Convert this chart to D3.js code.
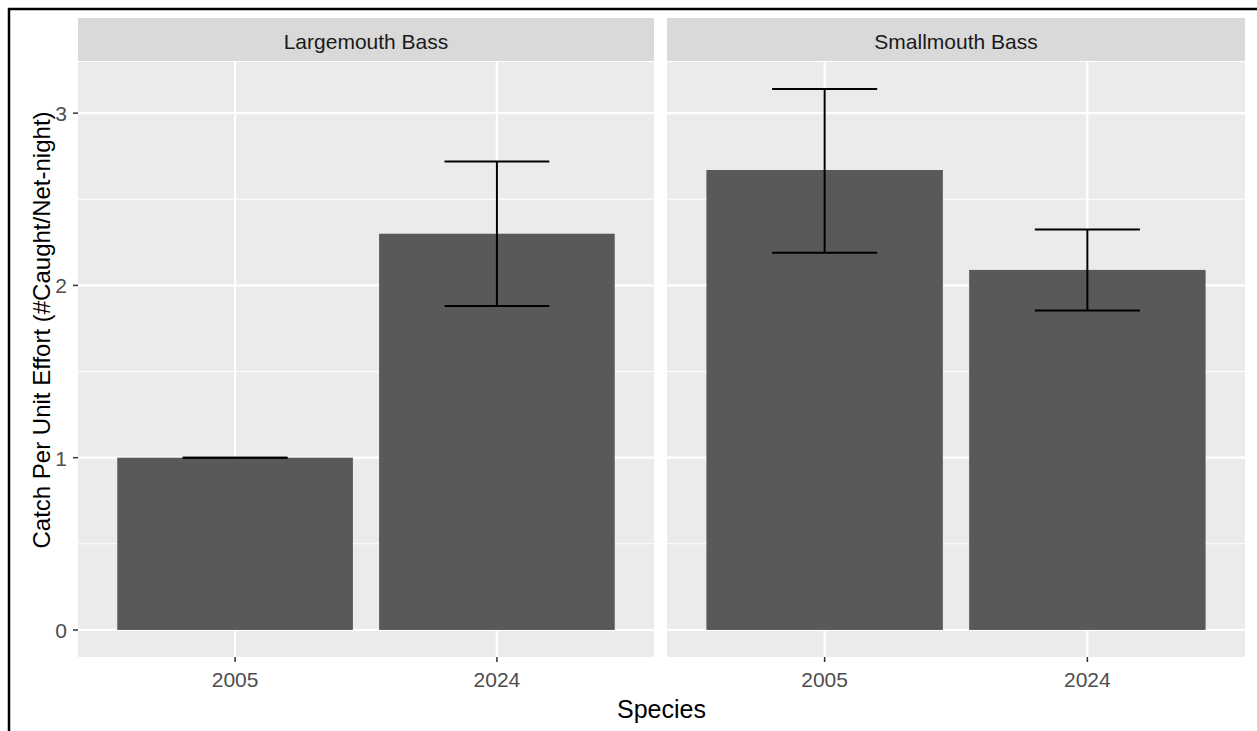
<!DOCTYPE html>
<html>
<head>
<meta charset="utf-8">
<script src="https://cdn.jsdelivr.net/npm/d3@7"></script>
<style>
body { margin: 0; background: #fff; }
text { font-family: "Liberation Sans", Arial, sans-serif; }
</style>
</head>
<body>
<svg id="chart"></svg>
<script>
// data
var species = ["Largemouth Bass", "Smallmouth Bass"];
var years = ["2005", "2024"];
var cpue = [[1.00, 2.30], [2.67, 2.09]];
var lower = [[1.00, 1.88], [2.19, 1.855]];
var upper = [[1.00, 2.72], [3.14, 2.325]];
var yTicks = [0, 1, 2, 3];

var width = 1257, height = 731;
var svg = d3.select("#chart").attr("width", width).attr("height", height);

// frame at top and left
svg.append("line").attr("x1", 8).attr("x2", width).attr("y1", 9).attr("y2", 9)
    .attr("stroke", "#000").attr("stroke-width", 2.5);
svg.append("line").attr("x1", 9).attr("x2", 9).attr("y1", 8).attr("y2", height)
    .attr("stroke", "#000").attr("stroke-width", 2.5);

var panelTop = 62, panelBottom = 657, stripTop = 18;
var panels = [[78, 654], [667, 1245]];

var yScale = d3.scaleLinear()
    .domain([-0.157, 3.297])
    .range([panelBottom, panelTop]);

species.forEach(function(sp, i)
{
    var x0 = panels[i][0], x1 = panels[i][1];
    var g = svg.append("g");

    // discrete axis like ggplot: 0.6 units of padding each side
    var xScale = d3.scalePoint()
        .domain(years)
        .range([x0, x1])
        .padding(0.6);
    var unit = xScale.step();
    var center = function(y) { return xScale(y); };

    // strip
    g.append("rect").attr("x", x0).attr("y", stripTop)
        .attr("width", x1 - x0).attr("height", panelTop - stripTop - 1)
        .attr("fill", "#D9D9D9");
    g.append("text").attr("x", (x0 + x1) / 2).attr("y", 49)
        .attr("text-anchor", "middle").attr("font-size", 21)
        .attr("fill", "#1A1A1A").text(sp);

    // panel background
    g.append("rect").attr("x", x0).attr("y", panelTop)
        .attr("width", x1 - x0).attr("height", panelBottom - panelTop)
        .attr("fill", "#EBEBEB");

    // minor grid
    g.selectAll(".minor").data([0.5, 1.5, 2.5]).enter().append("line")
        .attr("x1", x0).attr("x2", x1)
        .attr("y1", function(d) { return yScale(d); })
        .attr("y2", function(d) { return yScale(d); })
        .attr("stroke", "#fff").attr("stroke-width", 1.1);
    // major grid
    g.selectAll(".major").data(yTicks).enter().append("line")
        .attr("x1", x0).attr("x2", x1)
        .attr("y1", function(d) { return yScale(d); })
        .attr("y2", function(d) { return yScale(d); })
        .attr("stroke", "#fff").attr("stroke-width", 2.2);
    g.selectAll(".vgrid").data(years).enter().append("line")
        .attr("x1", center).attr("x2", center)
        .attr("y1", panelTop).attr("y2", panelBottom)
        .attr("stroke", "#fff").attr("stroke-width", 2.2);

    // bars
    g.selectAll(".bar").data(years).enter().append("rect")
        .attr("x", function(d) { return center(d) - 0.45 * unit; })
        .attr("width", 0.9 * unit)
        .attr("y", function(d, j) { return yScale(cpue[i][j]); })
        .attr("height", function(d, j) { return yScale(0) - yScale(cpue[i][j]); })
        .attr("fill", "#595959");

    // error bars
    var eb = g.selectAll(".eb").data(years).enter().append("g")
        .attr("stroke", "#000").attr("stroke-width", 2);
    eb.append("line")
        .attr("x1", center).attr("x2", center)
        .attr("y1", function(d, j) { return yScale(lower[i][j]); })
        .attr("y2", function(d, j) { return yScale(upper[i][j]); });
    eb.append("line")
        .attr("x1", function(d) { return center(d) - 0.2 * unit; })
        .attr("x2", function(d) { return center(d) + 0.2 * unit; })
        .attr("y1", function(d, j) { return yScale(upper[i][j]); })
        .attr("y2", function(d, j) { return yScale(upper[i][j]); });
    eb.append("line")
        .attr("x1", function(d) { return center(d) - 0.2 * unit; })
        .attr("x2", function(d) { return center(d) + 0.2 * unit; })
        .attr("y1", function(d, j) { return yScale(lower[i][j]); })
        .attr("y2", function(d, j) { return yScale(lower[i][j]); });

    // x axis ticks and labels
    g.selectAll(".xt").data(years).enter().append("line")
        .attr("x1", center).attr("x2", center)
        .attr("y1", panelBottom).attr("y2", panelBottom + 5)
        .attr("stroke", "#333").attr("stroke-width", 1.5);
    g.selectAll(".xl").data(years).enter().append("text")
        .attr("x", center).attr("y", 687)
        .attr("text-anchor", "middle").attr("font-size", 21)
        .attr("fill", "#4D4D4D").text(function(d) { return d; });
});

// y axis
var yAxis = svg.append("g");
yAxis.selectAll("line").data(yTicks).enter().append("line")
    .attr("x1", 73).attr("x2", 78)
    .attr("y1", function(d) { return yScale(d); })
    .attr("y2", function(d) { return yScale(d); })
    .attr("stroke", "#333").attr("stroke-width", 1.5);
yAxis.selectAll("text").data(yTicks).enter().append("text")
    .attr("x", 67).attr("y", function(d) { return yScale(d) + 8; })
    .attr("text-anchor", "end").attr("font-size", 21)
    .attr("fill", "#4D4D4D").text(function(d) { return d; });

// axis titles
svg.append("text")
    .attr("transform", "translate(50,330) rotate(-90)")
    .attr("text-anchor", "middle").attr("font-size", 24)
    .attr("fill", "#000").text("Catch Per Unit Effort (#Caught/Net-night)");
svg.append("text")
    .attr("x", (78 + 1245) / 2).attr("y", 718)
    .attr("text-anchor", "middle").attr("font-size", 25)
    .attr("fill", "#000").text("Species");
</script>
</body>
</html>
